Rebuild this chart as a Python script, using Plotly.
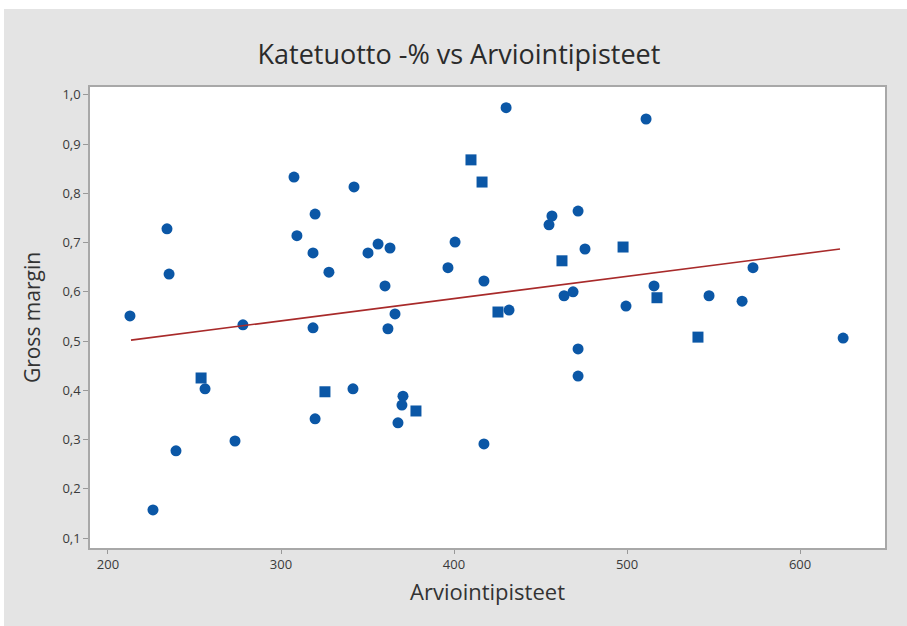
import plotly.graph_objects as go

# Data
arviointipisteet = [212.7, 234.1, 235.3, 253.8, 256.1, 239.3, 226.0, 273.4, 278.0, 307.5,
                    309.2, 319.7, 318.5, 318.5, 319.7, 327.7, 325.4, 342.2, 341.6, 350.3,
                    356.1, 363.0, 360.1, 361.8, 365.9, 370.5, 369.9, 367.6, 378.0, 396.5,
                    400.6, 409.8, 416.2, 417.3, 417.3, 430.1, 425.4, 431.8, 454.9, 456.6,
                    462.4, 463.6, 468.8, 471.7, 475.7, 471.7, 471.7, 497.7, 499.4, 511.0,
                    515.6, 517.3, 541.0, 547.4, 566.5, 572.8, 624.9]
gross_margin = [0.551, 0.728, 0.636, 0.425, 0.403, 0.277, 0.157, 0.297, 0.533, 0.833,
                0.714, 0.758, 0.679, 0.527, 0.342, 0.640, 0.397, 0.813, 0.403, 0.679,
                0.697, 0.689, 0.612, 0.525, 0.555, 0.388, 0.370, 0.334, 0.358, 0.649,
                0.701, 0.868, 0.823, 0.622, 0.291, 0.974, 0.559, 0.563, 0.736, 0.754,
                0.663, 0.592, 0.600, 0.764, 0.687, 0.484, 0.429, 0.691, 0.571, 0.951,
                0.612, 0.588, 0.508, 0.592, 0.581, 0.649, 0.506]
marker_shape = ["circle"] * len(arviointipisteet)
for i in [3, 16, 28, 31, 32, 36, 40, 47, 51, 52]:
    marker_shape[i] = "square"

fit_x = [213.3, 623.1]
fit_y = [0.502, 0.687]

x_ticks = [200, 300, 400, 500, 600]
y_ticks = [0.1, 0.2, 0.3, 0.4, 0.5, 0.6, 0.7, 0.8, 0.9, 1.0]

FONT = "Open Sans"

fig = go.Figure()
fig.add_trace(go.Scatter(
    x=arviointipisteet, y=gross_margin, mode="markers",
    marker=dict(color="#0b57a6", size=11, symbol=marker_shape,
                line=dict(width=0)),
    showlegend=False, cliponaxis=False))
fig.add_trace(go.Scatter(
    x=fit_x, y=fit_y, mode="lines",
    line=dict(color="#a82a2a", width=1.7),
    showlegend=False))

fig.update_layout(
    width=907, height=626,
    margin=dict(l=90, r=22, t=87, b=78),
    paper_bgcolor="#e4e4e4",
    plot_bgcolor="#ffffff",
    separators=", ",
    font=dict(family=FONT, color="#333333"),
    title=dict(text="Katetuotto -% vs Arviointipisteet", x=0.506, xanchor="center",
               y=1 - 55 / 626, yanchor="middle",
               font=dict(size=27, color="#2b2b2b", family=FONT)),
    xaxis=dict(range=[189.6, 649.1], tickvals=x_ticks, ticks="outside", ticklen=4,
               tickcolor="#999999", showgrid=False, zeroline=False,
               showline=True, linecolor="#a8a8a8", linewidth=1.5, mirror=True,
               tickfont=dict(size=13, color="#3a3a3a"),
               title=dict(text="Arviointipisteet", font=dict(size=22, color="#333333"),
                          standoff=12)),
    yaxis=dict(range=[0.0797, 1.016], tickvals=y_ticks, tickformat=".1f",
               ticks="outside", ticklen=5, tickcolor="#999999",
               showgrid=False, zeroline=False,
               showline=True, linecolor="#a8a8a8", linewidth=1.5, mirror=True,
               tickfont=dict(size=13, color="#3a3a3a"),
               title=dict(text="Gross margin", font=dict(size=21, color="#333333"),
                          standoff=16)),
    shapes=[
        dict(type="rect", xref="paper", yref="paper", x0=-0.2, x1=1.1,
             y0=(548 - 9) / 461, y1=1.25, fillcolor="#ffffff", line=dict(width=0),
             layer="below"),
        dict(type="rect", xref="paper", yref="paper", x0=-0.2, x1=(4 - 90) / 795,
             y0=-0.3, y1=1.25, fillcolor="#ffffff", line=dict(width=0),
             layer="below"),
    ],
)

fig.write_html("out.html", config={"displayModeBar": False},
               post_script="document.body.style.margin='0px';")
